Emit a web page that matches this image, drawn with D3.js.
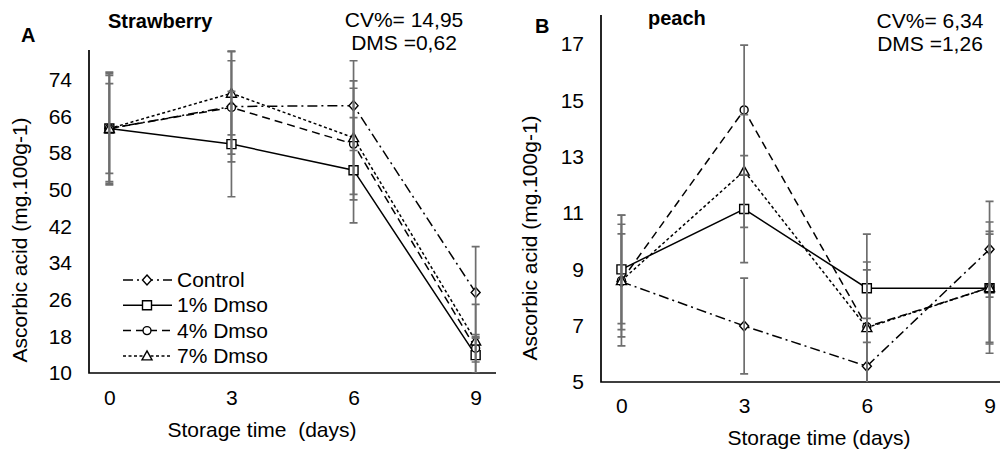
<!DOCTYPE html>
<html>
<head>
<meta charset="utf-8">
<script src="https://cdn.jsdelivr.net/npm/d3@7"></script>
<style>
  body { margin: 0; background: #fff; }
  svg { font-family: "Liberation Sans", Arial, sans-serif; }
</style>
</head>
<body>
<svg id="chart" width="1000" height="450"></svg>
<script>
var days = [0, 3, 6, 9];
var seriesNames = ['Control', '1% Dmso', '4% Dmso', '7% Dmso'];

// strawberry (panel A)
var strawTicks = [10, 18, 26, 34, 42, 50, 58, 66, 74];
var strawControl = [63.4, 68.2, 68.4, 27.6];
var straw1 = [63.4, 60.0, 54.3, 13.9];
var straw4 = [63.4, 68.0, 60.0, 15.4];
var straw7 = [63.4, 71.1, 61.4, 17.0];
var strawControlErr = [12.3, 12.1, 9.8, 10.0];
var straw1Err = [9.8, 11.5, 11.5, 4.0];
var straw4Err = [11.6, 10.2, 12.2, 3.0];
var straw7Err = [12.0, 9.1, 12.4, 8.0];

// peach (panel B)
var peachTicks = [5, 7, 9, 11, 13, 15, 17];
var peachControl = [8.56, 6.99, 5.56, 9.71];
var peach1 = [9.0, 11.14, 8.33, 8.33];
var peach4 = [8.6, 14.66, 6.96, 8.35];
var peach7 = [8.6, 12.49, 6.93, 8.35];
var peachControlErr = [1.7, 1.7, 1.7, 1.7];
var peach1Err = [1.93, 1.9, 1.92, 1.92];
var peach4Err = [2.32, 2.3, 2.3, 2.33];
var peach7Err = [2.0, 2.0, 2.05, 2.0];

var dashes = ['10,4,2,4', null, '8,5', '3,2.5'];
var markers = ['diamond', 'square', 'circle', 'triangle'];

var svg = d3.select('#chart');

function markerPath(type) {
    if (type == 'diamond') return 'M0,-5L4.5,0L0,5L-4.5,0Z';
    if (type == 'square') return 'M-4.5,-4.5H4.5V4.5H-4.5Z';
    if (type == 'triangle') return 'M0,-5L5,4H-5Z';
    return d3.symbol(d3.symbolCircle, 50)();
}

function drawPanel(p) {
    var x = d3.scaleLinear().domain([-0.5, 9.5]).range(p.xRange);
    var y = d3.scaleLinear().domain(p.yDomain).range(p.yRange);
    var g = svg.append('g');

    var clipId = 'clip-' + p.id;
    g.append('clipPath').attr('id', clipId)
        .append('rect')
        .attr('x', p.xRange[0]).attr('y', 0)
        .attr('width', p.xRange[1] - p.xRange[0])
        .attr('height', p.yRange[0]);

    // axes: labels only, no tick marks
    var yAxis = g.append('g')
        .attr('transform', 'translate(' + p.yLabelX + ',0)')
        .call(d3.axisLeft(y).tickValues(p.ticks).tickSize(0).tickPadding(0));
    yAxis.select('.domain').remove();
    yAxis.selectAll('text').attr('font-size', 21).attr('fill', '#000')
        .attr('font-family', '"Liberation Sans", Arial, sans-serif');

    var xAxis = g.append('g')
        .attr('transform', 'translate(0,' + p.xLabelY + ')')
        .call(d3.axisBottom(x).tickValues(days).tickSize(0).tickPadding(0));
    xAxis.select('.domain').remove();
    xAxis.selectAll('text').attr('font-size', 21).attr('fill', '#000')
        .attr('font-family', '"Liberation Sans", Arial, sans-serif');

    g.append('path')
        .attr('d', 'M' + p.xRange[0] + ',' + p.yRange[1] + 'V' + p.yRange[0] + 'H' + p.xRange[1])
        .attr('fill', 'none').attr('stroke', '#000').attr('stroke-width', 1.7);

    var line = d3.line().x(function (d, i) { return x(days[i]); }).y(function (d) { return y(d); });
    var plot = g.append('g').attr('clip-path', 'url(#' + clipId + ')');

    p.means.forEach(function (vals, s) {
        plot.append('path')
            .attr('d', line(vals))
            .attr('fill', 'none')
            .attr('stroke', '#000')
            .attr('stroke-width', 1.5)
            .attr('stroke-dasharray', dashes[s]);
    });

    p.means.forEach(function (vals, s) {
        plot.selectAll(null)
            .data(vals)
            .enter()
            .append('path')
            .attr('d', markerPath(markers[s]))
            .attr('transform', function (d, i) { return 'translate(' + x(days[i]) + ',' + y(d) + ')'; })
            .attr('fill', '#fff')
            .attr('stroke', '#000')
            .attr('stroke-width', 1.4);
    });

    p.means.forEach(function (vals, s) {
        vals.forEach(function (v, i) {
            var cx = x(days[i]);
            var top = y(v + p.errs[s][i]);
            var bot = y(v - p.errs[s][i]);
            plot.append('path')
                .attr('d', 'M' + cx + ',' + top + 'V' + bot +
                    'M' + (cx - 4) + ',' + top + 'H' + (cx + 4) +
                    'M' + (cx - 4) + ',' + bot + 'H' + (cx + 4))
                .attr('fill', 'none')
                .attr('stroke', '#6e6e6e')
                .attr('stroke-width', 1.7);
        });
    });

    g.append('text')
        .attr('x', p.letter[0]).attr('y', p.letter[1])
        .attr('font-size', 20).attr('font-weight', 'bold')
        .text(p.id);
    g.append('text')
        .attr('x', p.title[0]).attr('y', p.title[1])
        .attr('font-size', 20).attr('font-weight', 'bold')
        .text(p.name);
    g.append('text')
        .attr('x', p.stats[0]).attr('y', p.stats[1])
        .attr('font-size', 21).attr('text-anchor', 'middle')
        .text(p.cv);
    g.append('text')
        .attr('x', p.stats[0]).attr('y', p.stats[1] + 23)
        .attr('font-size', 21).attr('text-anchor', 'middle')
        .text(p.dms);

    g.append('text')
        .attr('x', p.xTitle[0]).attr('y', p.xTitle[1])
        .attr('font-size', 21).attr('text-anchor', 'middle')
        .attr('xml:space', 'preserve')
        .text(p.xLabel);
    g.append('text')
        .attr('transform', 'translate(' + p.yTitle[0] + ',' + p.yTitle[1] + ') rotate(-90)')
        .attr('font-size', 21).attr('text-anchor', 'middle')
        .text('Ascorbic acid (mg.100g-1)');

    return g;
}

var gA = drawPanel({
    id: 'A', name: 'Strawberry',
    xRange: [89, 496], yRange: [373, 50], yDomain: [10, 80.55],
    ticks: strawTicks, yLabelX: 72, xLabelY: 390,
    means: [strawControl, straw1, straw4, straw7],
    errs: [strawControlErr, straw1Err, straw4Err, straw7Err],
    letter: [21, 42], title: [108, 28], stats: [404, 27],
    cv: 'CV%= 14,95', dms: 'DMS =0,62',
    xTitle: [262, 437], xLabel: 'Storage time  (days)',
    yTitle: [27, 240]
});

drawPanel({
    id: 'B', name: 'peach',
    xRange: [601, 1010], yRange: [382, 15], yDomain: [5, 18.03],
    ticks: peachTicks, yLabelX: 584, xLabelY: 398,
    means: [peachControl, peach1, peach4, peach7],
    errs: [peachControlErr, peach1Err, peach4Err, peach7Err],
    letter: [535, 33], title: [648, 25], stats: [930, 28],
    cv: 'CV%= 6,34', dms: 'DMS =1,26',
    xTitle: [819, 445], xLabel: 'Storage time (days)',
    yTitle: [537, 238]
});

// legend in panel A
var legend = gA.append('g');
seriesNames.forEach(function (name, s) {
    var ly = 280 + s * 25.3;
    legend.append('line')
        .attr('x1', 123).attr('x2', 172).attr('y1', ly).attr('y2', ly)
        .attr('stroke', '#000').attr('stroke-width', 1.5)
        .attr('stroke-dasharray', dashes[s]);
    legend.append('path')
        .attr('d', markerPath(markers[s]))
        .attr('transform', 'translate(147,' + ly + ')')
        .attr('fill', '#fff').attr('stroke', '#000').attr('stroke-width', 1.4);
    legend.append('text')
        .attr('x', 177).attr('y', ly + 7)
        .attr('font-size', 21)
        .text(name);
});
</script>
</body>
</html>
